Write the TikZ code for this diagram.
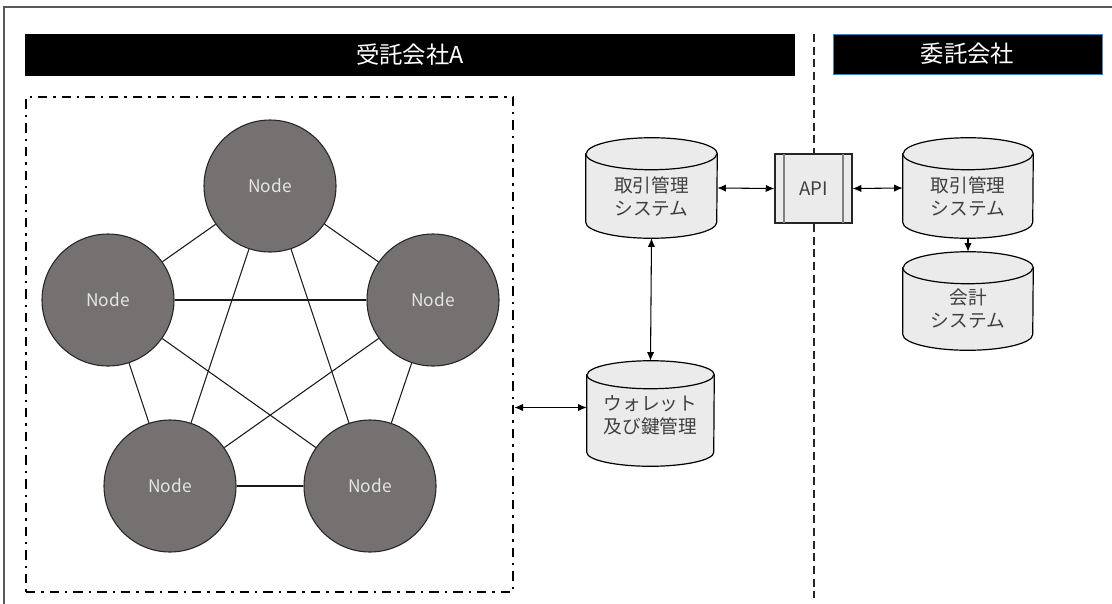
\documentclass[tikz,border=0pt]{standalone}
\usepackage{fontspec}
\setmainfont{Noto Sans CJK JP}
\usetikzlibrary{arrows.meta,backgrounds}
\definecolor{nodegray}{HTML}{757171}
\definecolor{cylgray}{HTML}{EBEBEB}
\definecolor{txtgray}{HTML}{3F3F3F}
\definecolor{framegray}{HTML}{595959}
\definecolor{hdrblue}{HTML}{4F81BD}
\newcommand\drawcyl[3]{%
  \filldraw[cylline] ([yshift=-#3]#1.north west) -- ([yshift=#3]#1.south west)
    arc[start angle=180,end angle=360,x radius=#2,y radius=#3]
    -- ([yshift=-#3]#1.north east)
    arc[start angle=0,end angle=180,x radius=#2,y radius=#3] -- cycle;
  \draw[cylline] ([yshift=-#3]#1.north west)
    arc[start angle=180,end angle=360,x radius=#2,y radius=#3];}
\begin{document}
\begin{tikzpicture}[x=0.75pt,y=-0.75pt,
  peer/.style={circle,draw=black!85,line width=0.8pt,fill=nodegray,minimum size=99pt,inner sep=0pt,
    text=white!90!black,font=\fontsize{13}{15}\selectfont},
  hdr/.style={fill=black,text=white,inner sep=0pt,font=\fontsize{17.5}{20}\selectfont},
  cylbox/.style={rectangle,inner sep=0pt,draw=none},
  cylline/.style={draw=black,line width=0.9pt,fill=cylgray},
  cyltext/.style={align=center,text=txtgray,inner sep=0pt,font=\fontsize{14}{17.25}\selectfont},
  link/.style={draw=black!90,line width=0.8pt},
  arr/.style={line width=0.8pt,arrows={Latex[length=6.5pt,width=5.5pt]-Latex[length=6.5pt,width=5.5pt]}},
  arrone/.style={line width=0.8pt,arrows={-Latex[length=6.5pt,width=5.5pt]}},
  ringbox/.style={draw=black,line width=2pt,dash pattern=on 7pt off 4.5pt on 1.8pt off 4.5pt,inner sep=0pt},
  divider/.style={draw=black!85,line width=0.9pt,dash pattern=on 6pt off 3.5pt},
  frame/.style={draw=framegray,line width=1.6pt}
]
\useasboundingbox (0,0) rectangle (1112,603);
\draw[frame] (4,604) -- (4,7) -- (1113,7);

% headers
\node[hdr,minimum width=577.5pt,minimum height=31.5pt] (hA) at (410,55) {受託会社A};
\node[hdr,draw=hdrblue,line width=0.6pt,minimum width=201.75pt,minimum height=30pt] (hB) at (967.5,54) {委託会社};
\coordinate (dtop) at (814,34);
\coordinate (dbot) at (814,598);
\draw[divider] (dtop) -- (dbot);

% node network box
\node[ringbox,minimum width=365.25pt,minimum height=371.25pt] (ring) at (269.5,344.5) {};

\node[peer] (n1) at (270,186) {Node};
\node[peer] (n2) at (108,300) {Node};
\node[peer] (n3) at (433,300) {Node};
\node[peer] (n4) at (170,486) {Node};
\node[peer] (n5) at (370,486) {Node};
\draw[link] (n1) -- (n2);
\draw[link] (n1) -- (n3);
\draw[link] (n1) -- (n4);
\draw[link] (n1) -- (n5);
\draw[link] (n2) -- (n3);
\draw[link] (n2) -- (n4);
\draw[link] (n2) -- (n5);
\draw[link] (n3) -- (n4);
\draw[link] (n3) -- (n5);
\draw[link] (n4) -- (n5);

% cylinders
\node[cylbox,minimum width=98.25pt,minimum height=75pt] (tcA) at (651.5,188) {};
\node[cylbox,minimum width=97.5pt,minimum height=75pt] (tcB) at (968,188) {};
\node[cylbox,minimum width=97.5pt,minimum height=73.5pt] (kk) at (968,301) {};
\node[cylbox,minimum width=95.25pt,minimum height=78.75pt] (wal) at (650.5,413.5) {};
\begin{scope}[on background layer]
\drawcyl{tcA}{49.125pt}{12pt}
\drawcyl{tcB}{48.75pt}{12pt}
\drawcyl{kk}{48.75pt}{12pt}
\drawcyl{wal}{47.625pt}{10.5pt}
\end{scope}
\node[cyltext] (tcAt) at (651.5,197) {取引管理\\システム};
\node[cyltext] (tcBt) at (968,197) {取引管理\\システム};
\node[cyltext] (kkt) at (968,309) {会計\\システム};
\node[cyltext] (walt) at (650.5,415) {ウォレット\\及び鍵管理};

% API
\node[draw=black!85,line width=0.9pt,fill=cylgray,minimum width=57.75pt,minimum height=51.75pt,
  inner sep=0pt,text=txtgray,font=\fontsize{14}{16}\selectfont] (api) at (813.5,188.5) {API};
\draw[draw=gray,line width=1.5pt] ([xshift=7.5pt,yshift=-0.5pt]api.north west) -- ([xshift=7.5pt,yshift=0.5pt]api.south west);
\draw[draw=gray,line width=1.5pt] ([xshift=-7.5pt,yshift=-0.5pt]api.north east) -- ([xshift=-7.5pt,yshift=0.5pt]api.south east);

% connectors
\draw[arr] (tcA.east) -- (api.west);
\draw[arr] (api.east) -- (tcB.west);
\draw[arrone] (tcB.south) -- (kk.north);
\draw[arr] (tcA.south) -- (wal.north);
\coordinate (wa) at ([yshift=4.5pt]wal.west);
\draw[arr] (ring.east |- wa) -- (wa);
\end{tikzpicture}
\end{document}
